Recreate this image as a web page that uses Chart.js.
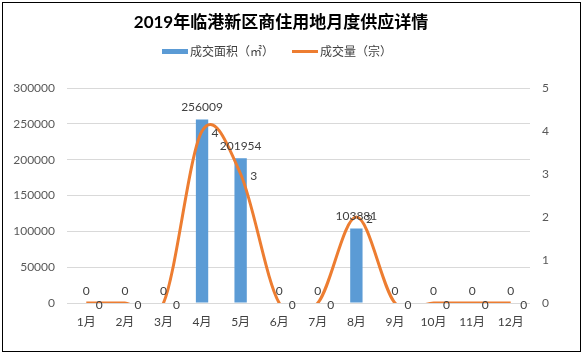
<!DOCTYPE html>
<html><head><meta charset="utf-8">
<script src="https://cdn.jsdelivr.net/npm/chart.js@4"></script>
<style>html,body{margin:0;padding:0;background:#fff}#wrap{position:relative;width:584px;height:355px}</style>
</head><body><div id="wrap"><canvas id="c" width="584" height="355"></canvas></div>
<script>
const categories = ['1月','2月','3月','4月','5月','6月','7月','8月','9月','10月','11月','12月'];
const areaValues = [0,0,0,256009,201954,0,0,103881,0,0,0,0];
const countValues = [0,0,0,4,3,0,0,2,0,0,0,0];
const leftTicks = [0,50000,100000,150000,200000,250000,300000];
const rightTicks = [0,1,2,3,4,5];
const titleText = '2019年临港新区商住用地月度供应详情';
const seriesNames = ['成交面积（㎡）','成交量（宗）'];

const BLUE = '#5B9BD5', ORANGE = '#ED7D31';
const FONT = "Lato, 'Noto Sans CJK SC', sans-serif";

// Excel-style uniform Catmull-Rom smoothing, built from the library's own point positions
const smoothLine = {
  id: 'smoothLine',
  beforeDatasetDraw(chart, args) {
    const meta = args.meta;
    if (meta.type !== 'line') return;
    meta.dataset.updateControlPoints(chart.chartArea, meta.iScale.axis);
    const pts = meta.data, n = pts.length;
    for (let i = 0; i < n; i++) {
      const p = pts[i], prev = pts[Math.max(0, i - 1)], next = pts[Math.min(n - 1, i + 1)];
      const dx = (next.x - prev.x) / 6, dy = (next.y - prev.y) / 6;
      p.cp1x = p.x - dx; p.cp1y = p.y - dy;
      p.cp2x = p.x + dx; p.cp2y = p.y + dy;
    }
  }
};

const decor = {
  id: 'decor',
  afterDraw(chart) {
    const ctx = chart.ctx;
    ctx.save();
    ctx.strokeStyle = '#000'; ctx.lineWidth = 1;
    ctx.strokeRect(2.5, 2.5, 578, 349);
    ctx.fillStyle = '#000';
    ctx.font = "bold 17px " + FONT;
    ctx.textAlign = 'center'; ctx.textBaseline = 'middle';
    ctx.fillText(titleText, 281, 23);
    ctx.font = "12px " + FONT;
    ctx.textAlign = 'left';
    ctx.fillStyle = BLUE; ctx.fillRect(162, 49, 26, 5);
    ctx.fillStyle = '#404040'; ctx.fillText(seriesNames[0], 190, 52);
    ctx.fillStyle = ORANGE; ctx.fillRect(292, 50, 26, 3);
    ctx.fillStyle = '#404040'; ctx.fillText(seriesNames[1], 320, 52);
    ctx.restore();
  },
  afterDatasetsDraw(chart) {
    const ctx = chart.ctx;
    ctx.save();
    ctx.font = "12px " + FONT;
    ctx.fillStyle = '#404040';
    ctx.textAlign = 'center'; ctx.textBaseline = 'middle';
    chart.data.datasets.forEach((ds, di) => {
      const meta = chart.getDatasetMeta(di);
      meta.data.forEach((el, i) => {
        const v = ds.data[i];
        if (ds.type === 'bar') ctx.fillText(String(v), el.x, el.y - 12);
        else ctx.fillText(String(v), el.x + 13, el.y + 2);
      });
    });
    ctx.restore();
  }
};

new Chart(document.getElementById('c'), {
  data: {
    labels: categories,
    datasets: [
      { type: 'line', label: seriesNames[1], data: countValues, yAxisID: 'y1',
        borderColor: ORANGE, backgroundColor: ORANGE, borderWidth: 3,
        tension: 0.4, capBezierPoints: false, pointRadius: 0, order: 0 },
      { type: 'bar', label: seriesNames[0], data: areaValues, yAxisID: 'y',
        backgroundColor: BLUE, barPercentage: 0.32, categoryPercentage: 1, order: 1 }
    ]
  },
  options: {
    responsive: false, animation: false, devicePixelRatio: 1,
    layout: { padding: { top: 88, left: 0, right: 0, bottom: 0 } },
    plugins: { legend: { display: false }, title: { display: false }, tooltip: { enabled: false } },
    scales: {
      x: {
        grid: { display: false, drawTicks: false }, border: { display: false },
        ticks: { color: '#404040', font: { size: 12, family: FONT }, padding: 12, maxRotation: 0, autoSkip: false },
        afterFit(s) { s.height = 52; }
      },
      y: {
        position: 'left', min: 0, max: 300000,
        afterBuildTicks(s) { s.ticks = leftTicks.map(v => ({ value: v })); },
        grid: { color: '#d9d9d9', drawTicks: false }, border: { display: false },
        ticks: { color: '#595959', font: { size: 12, family: FONT }, padding: 12, callback: v => String(v) },
        afterFit(s) { s.width = 67; }
      },
      y1: {
        position: 'right', min: 0, max: 5,
        afterBuildTicks(s) { s.ticks = rightTicks.map(v => ({ value: v })); },
        grid: { drawOnChartArea: false, drawTicks: false }, border: { display: false },
        ticks: { color: '#595959', font: { size: 12, family: FONT }, padding: 12, callback: v => String(v) },
        afterFit(s) { s.width = 54; }
      }
    }
  },
  plugins: [smoothLine, decor]
});
</script></body></html>
